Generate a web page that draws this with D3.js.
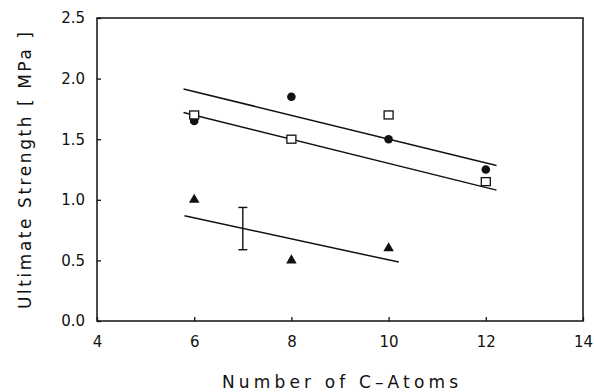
<!DOCTYPE html>
<html>
<head>
  <meta charset="utf-8">
  <script src="https://cdn.jsdelivr.net/npm/d3@7"></script>
  <style>
    body { margin: 0; background: #fff; }
    text { font-family: "DejaVu Sans", sans-serif; fill: #111; }
  </style>
</head>
<body>
  <script type="text/javascript">
    "use strict";

    // data
    var xTicks = [4, 6, 8, 10, 12, 14];
    var yTicks = [0, 0.5, 1.0, 1.5, 2.0, 2.5];

    var atoms = [6, 8, 10, 12];
    var circleVals = [1.65, 1.85, 1.50, 1.25];
    var squareVals = [1.70, 1.50, 1.70, 1.15];
    var triAtoms = [6, 8, 10];
    var triVals = [1.00, 0.50, 0.60];

    // fitted lines, endpoints [x, y]
    var fitCircle = [[5.78, 1.915], [12.22, 1.283]];
    var fitSquare = [[5.78, 1.72], [12.22, 1.08]];
    var fitTri = [[5.8, 0.868], [10.21, 0.486]];

    // error bar: x, low, high
    var errBar = {x: 7, lo: 0.588, hi: 0.937};

    var width = 594, height = 392;
    var margin = {top: 18, right: 11, bottom: 71, left: 97};

    var svg = d3.select("body").append("svg")
      .attr("width", width)
      .attr("height", height);

    var x = d3.scaleLinear().domain([4, 14]).range([margin.left, width - margin.right]);
    var y = d3.scaleLinear().domain([0, 2.5]).range([height - margin.bottom, margin.top]);

    // frame
    svg.append("rect")
      .attr("x", x(4)).attr("y", y(2.5))
      .attr("width", x(14) - x(4)).attr("height", y(0) - y(2.5))
      .attr("fill", "none").attr("stroke", "#111").attr("stroke-width", 1.5);

    // x axis
    var xAxis = svg.append("g")
      .attr("transform", "translate(0," + y(0) + ")")
      .call(d3.axisBottom(x).tickValues(xTicks).tickSizeInner(-4).tickSizeOuter(0).tickPadding(15)
        .tickFormat(d3.format("d")));
    xAxis.select(".domain").remove();
    xAxis.selectAll("line").attr("stroke", "#111").attr("stroke-width", 1.3);
    xAxis.selectAll("text").style("font-size", "15px").style("font-family", "DejaVu Sans, sans-serif");

    // y axis
    var yAxis = svg.append("g")
      .attr("transform", "translate(" + x(4) + ",0)")
      .call(d3.axisLeft(y).tickValues(yTicks).tickSizeInner(-4).tickSizeOuter(0).tickPadding(12)
        .tickFormat(d3.format(".1f")));
    yAxis.select(".domain").remove();
    yAxis.selectAll("line").attr("stroke", "#111").attr("stroke-width", 1.3);
    yAxis.selectAll("text").style("font-size", "15px").style("font-family", "DejaVu Sans, sans-serif");

    // fit lines
    var line = d3.line().x(function(d) { return x(d[0]); }).y(function(d) { return y(d[1]); });
    [fitCircle, fitSquare, fitTri].forEach(function(f) {
      svg.append("path").attr("d", line(f))
        .attr("fill", "none").attr("stroke", "#111").attr("stroke-width", 1.5);
    });

    // error bar
    var eb = svg.append("g").attr("stroke", "#111").attr("stroke-width", 1.4);
    eb.append("line").attr("x1", x(errBar.x)).attr("x2", x(errBar.x))
      .attr("y1", y(errBar.lo)).attr("y2", y(errBar.hi));
    [errBar.lo, errBar.hi].forEach(function(v) {
      eb.append("line").attr("x1", x(errBar.x) - 4.5).attr("x2", x(errBar.x) + 4.5)
        .attr("y1", y(v)).attr("y2", y(v));
    });

    // markers
    svg.selectAll("circle.pt")
      .data(atoms).enter().append("circle")
      .attr("class", "pt")
      .attr("cx", function(d) { return x(d); })
      .attr("cy", function(d, i) { return y(circleVals[i]); })
      .attr("r", 4.3).attr("fill", "#111");

    svg.selectAll("rect.pt")
      .data(atoms).enter().append("rect")
      .attr("class", "pt")
      .attr("x", function(d) { return x(d) - 4.5; })
      .attr("y", function(d, i) { return y(squareVals[i]) - 4; })
      .attr("width", 9).attr("height", 8)
      .attr("fill", "#fff").attr("stroke", "#111").attr("stroke-width", 1.3);

    var tri = d3.symbol().type(d3.symbolTriangle).size(48);
    svg.selectAll("path.tri")
      .data(triAtoms).enter().append("path")
      .attr("class", "tri")
      .attr("d", tri)
      .attr("transform", function(d, i) { return "translate(" + x(d) + "," + y(triVals[i]) + ")"; })
      .attr("fill", "#111");

    // axis titles
    svg.append("text")
      .attr("x", 222).attr("y", 388)
      .attr("textLength", 236).attr("lengthAdjust", "spacing")
      .style("font-size", "17px")
      .text("Number  of  C\u2013Atoms");

    svg.append("text")
      .attr("transform", "translate(31,309) rotate(-90)")
      .attr("textLength", 277).attr("lengthAdjust", "spacing")
      .style("font-size", "17px")
      .text("Ultimate  Strength  [  MPa  ]");
  </script>
</body>
</html>
